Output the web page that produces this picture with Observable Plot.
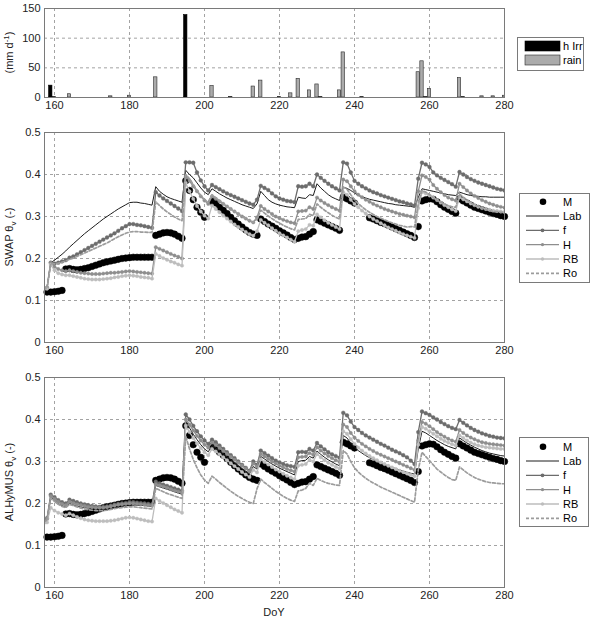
<!DOCTYPE html>
<html><head><meta charset="utf-8">
<script src="https://cdn.jsdelivr.net/npm/d3@7"></script>
<script src="https://cdn.jsdelivr.net/npm/@observablehq/plot@0.6"></script>
<style>
body{margin:0;background:#fff;}
#fig{position:relative;width:597px;height:617px;overflow:hidden;background:#fff;}
#fig svg{position:absolute;left:0;}
</style></head><body><div id="fig"></div>
<script>
// ---------- data ----------
const firstDay = 157, lastDay = 280;
const xTicks = [160, 180, 200, 220, 240, 260, 280];
const thetaTicks = [0, 0.1, 0.2, 0.3, 0.4, 0.5];
const flowTicks = [0, 50, 100, 150];

const irrDays = [159, 195];
const irrVals = [20, 139];
const rainDays = [160, 164, 175, 180, 187, 202, 207, 213, 215, 220, 223, 225, 228, 230, 231, 236, 237, 242, 257, 258, 259, 260, 268, 269, 274, 277, 280];
const rainVals = [1, 5.5, 2, 3, 34, 19.5, 1, 18.5, 28.5, 1, 7, 31.5, 12, 22, 1, 12, 76, 1, 42.6, 61, 1, 14.6, 33, 1, 2, 2, 3];

// daily values, DoY 157 .. 280 (rows of 10 days)
const measured = [
 null,0.120,0.120,0.121,0.122,0.124,0.175,0.176,0.174,0.173,
 0.174,0.176,0.178,0.181,0.184,0.187,0.190,0.192,0.194,0.196,
 0.198,0.200,0.201,0.202,0.203,0.203,0.203,0.203,0.203,0.203,
 0.255,0.258,0.261,0.262,0.261,0.258,0.253,0.248,0.385,0.362,
 0.340,0.322,0.310,0.298,null,0.336,0.332,0.322,0.315,0.307,
 0.298,0.290,0.282,0.275,0.268,0.262,0.258,0.255,0.294,0.288,
 0.282,0.277,0.272,0.266,0.261,0.256,0.250,0.245,0.248,0.251,
 0.252,0.258,0.264,0.292,0.288,0.284,0.280,0.276,0.272,0.267,
 0.346,0.342,0.337,0.332,null,null,null,0.297,0.294,0.290,
 0.286,0.283,0.279,0.275,0.271,0.267,0.263,0.259,0.255,0.250,
 0.276,0.337,0.340,0.342,0.341,0.335,0.328,0.322,0.317,0.312,
 0.308,0.342,0.337,0.332,0.327,0.322,0.319,0.316,0.313,0.310,
 0.307,0.305,0.302,0.300];

const swapLab = [
 0.130,0.130,0.190,0.196,0.203,0.210,0.218,0.227,0.235,0.243,
 0.251,0.259,0.266,0.273,0.280,0.287,0.294,0.300,0.306,0.312,
 0.318,0.323,0.328,0.333,0.334,0.334,0.332,0.331,0.329,0.327,
 0.371,0.360,0.353,0.347,0.343,0.340,0.337,0.334,0.410,0.400,
 0.392,0.380,0.368,0.358,0.352,0.366,0.360,0.354,0.349,0.344,
 0.340,0.336,0.332,0.328,0.325,0.322,0.319,0.330,0.360,0.350,
 0.340,0.334,0.330,0.327,0.325,0.323,0.322,0.321,0.346,0.344,
 0.343,0.352,0.350,0.378,0.368,0.360,0.352,0.346,0.342,0.338,
 0.370,0.367,0.362,0.356,0.350,0.347,0.344,0.341,0.339,0.337,
 0.335,0.333,0.331,0.330,0.328,0.327,0.326,0.325,0.324,0.322,
 0.345,0.366,0.364,0.362,0.360,0.358,0.356,0.354,0.352,0.351,
 0.350,0.358,0.355,0.352,0.350,0.349,0.348,0.347,0.347,0.346,
 0.346,0.346,0.346,0.346];

const swapF = [
 0.125,0.130,0.190,0.188,0.190,0.193,0.196,0.202,0.205,0.210,
 0.215,0.220,0.225,0.230,0.235,0.240,0.245,0.250,0.255,0.260,
 0.266,0.272,0.277,0.282,0.282,0.280,0.279,0.277,0.275,0.273,
 0.358,0.350,0.343,0.337,0.331,0.325,0.319,0.313,0.429,0.429,
 0.428,0.405,0.386,0.372,0.362,0.375,0.370,0.365,0.360,0.355,
 0.351,0.347,0.343,0.339,0.335,0.331,0.328,0.340,0.373,0.368,
 0.363,0.355,0.348,0.343,0.340,0.337,0.336,0.334,0.372,0.371,
 0.372,0.378,0.372,0.400,0.392,0.385,0.378,0.372,0.367,0.362,
 0.429,0.426,0.405,0.385,0.378,0.372,0.367,0.362,0.358,0.355,
 0.351,0.348,0.345,0.342,0.339,0.336,0.334,0.331,0.329,0.326,
 0.390,0.428,0.424,0.418,0.405,0.398,0.392,0.387,0.382,0.377,
 0.371,0.406,0.400,0.394,0.389,0.385,0.381,0.378,0.375,0.372,
 0.369,0.366,0.364,0.362];

const swapH = [
 0.125,0.130,0.190,0.180,0.175,0.172,0.170,0.172,0.170,0.168,
 0.166,0.165,0.164,0.163,0.163,0.163,0.164,0.165,0.166,0.166,
 0.167,0.168,0.169,0.170,0.169,0.168,0.167,0.166,0.165,0.164,
 0.227,0.223,0.219,0.215,0.211,0.207,0.204,0.200,0.395,0.385,
 0.372,0.360,0.348,0.338,0.330,0.348,0.342,0.336,0.330,0.324,
 0.318,0.312,0.306,0.300,0.295,0.290,0.286,0.298,0.325,0.318,
 0.312,0.306,0.300,0.296,0.292,0.289,0.286,0.284,0.312,0.313,
 0.314,0.322,0.318,0.345,0.338,0.332,0.327,0.322,0.318,0.314,
 0.388,0.384,0.372,0.360,0.352,0.346,0.340,0.335,0.330,0.326,
 0.322,0.318,0.315,0.312,0.309,0.306,0.304,0.302,0.300,0.298,
 0.360,0.398,0.394,0.388,0.375,0.366,0.358,0.351,0.345,0.341,
 0.338,0.378,0.370,0.362,0.355,0.349,0.344,0.339,0.335,0.331,
 0.328,0.325,0.323,0.321];

const swapRB = [
 0.125,0.128,0.185,0.172,0.165,0.162,0.160,0.160,0.158,0.156,
 0.154,0.152,0.151,0.150,0.150,0.150,0.151,0.152,0.153,0.155,
 0.156,0.158,0.159,0.160,0.159,0.158,0.156,0.155,0.154,0.152,
 0.211,0.206,0.201,0.197,0.193,0.190,0.186,0.183,0.380,0.360,
 0.342,0.325,0.312,0.302,0.295,0.326,0.318,0.310,0.302,0.295,
 0.288,0.281,0.275,0.269,0.263,0.258,0.254,0.265,0.292,0.285,
 0.279,0.272,0.266,0.260,0.255,0.250,0.245,0.240,0.265,0.268,
 0.270,0.280,0.278,0.305,0.298,0.291,0.285,0.280,0.275,0.270,
 0.358,0.352,0.340,0.330,0.322,0.314,0.307,0.300,0.294,0.289,
 0.284,0.279,0.274,0.270,0.266,0.262,0.258,0.255,0.252,0.249,
 0.320,0.358,0.355,0.350,0.345,0.339,0.333,0.327,0.322,0.317,
 0.313,0.346,0.341,0.336,0.331,0.327,0.323,0.320,0.318,0.316,
 0.314,0.313,0.312,0.311];

const swapRo = [
 0.125,0.130,0.188,0.187,0.189,0.191,0.194,0.198,0.201,0.205,
 0.209,0.213,0.217,0.221,0.225,0.229,0.233,0.237,0.242,0.247,
 0.252,0.256,0.260,0.263,0.264,0.264,0.263,0.263,0.262,0.262,
 0.335,0.326,0.318,0.311,0.305,0.299,0.294,0.290,0.400,0.390,
 0.376,0.362,0.350,0.340,0.333,0.352,0.345,0.338,0.331,0.324,
 0.318,0.312,0.306,0.300,0.295,0.290,0.286,0.294,0.315,0.308,
 0.301,0.295,0.289,0.284,0.279,0.275,0.271,0.268,0.293,0.294,
 0.295,0.305,0.302,0.330,0.322,0.315,0.309,0.303,0.298,0.294,
 0.370,0.365,0.352,0.340,0.331,0.323,0.316,0.310,0.305,0.300,
 0.296,0.292,0.288,0.285,0.282,0.279,0.277,0.275,0.276,0.275,
 0.330,0.362,0.358,0.352,0.345,0.339,0.334,0.330,0.326,0.323,
 0.322,0.354,0.346,0.339,0.333,0.328,0.324,0.320,0.317,0.314,
 0.312,0.311,0.310,0.310];

const alhLab = [
 0.155,0.160,0.215,0.208,0.200,0.195,0.192,0.200,0.197,0.194,
 0.192,0.190,0.189,0.188,0.188,0.188,0.189,0.190,0.192,0.194,
 0.195,0.196,0.197,0.198,0.198,0.197,0.196,0.195,0.194,0.193,
 0.243,0.240,0.237,0.234,0.231,0.228,0.225,0.222,0.395,0.380,
 0.365,0.352,0.340,0.330,0.323,0.338,0.332,0.325,0.318,0.311,
 0.304,0.297,0.290,0.283,0.277,0.271,0.288,0.282,0.312,0.306,
 0.300,0.294,0.289,0.284,0.280,0.276,0.272,0.268,0.300,0.302,
 0.303,0.312,0.308,0.325,0.317,0.310,0.304,0.299,0.294,0.290,
 0.362,0.356,0.344,0.334,0.326,0.320,0.314,0.309,0.305,0.301,
 0.297,0.293,0.289,0.286,0.283,0.280,0.277,0.274,0.272,0.270,
 0.330,0.372,0.368,0.362,0.356,0.350,0.345,0.340,0.336,0.333,
 0.330,0.356,0.350,0.344,0.339,0.334,0.330,0.326,0.323,0.320,
 0.318,0.316,0.314,0.313];

const alhF = [
 0.160,0.165,0.221,0.215,0.208,0.203,0.200,0.209,0.206,0.203,
 0.200,0.198,0.196,0.194,0.193,0.192,0.192,0.193,0.195,0.197,
 0.199,0.200,0.201,0.203,0.203,0.202,0.201,0.200,0.199,0.198,
 0.252,0.248,0.245,0.242,0.239,0.236,0.233,0.230,0.412,0.400,
 0.385,0.372,0.360,0.350,0.342,0.352,0.346,0.338,0.330,0.322,
 0.315,0.308,0.300,0.292,0.285,0.278,0.300,0.292,0.326,0.320,
 0.314,0.308,0.302,0.298,0.294,0.291,0.289,0.287,0.322,0.323,
 0.322,0.330,0.326,0.344,0.336,0.329,0.322,0.317,0.313,0.309,
 0.416,0.410,0.395,0.382,0.375,0.368,0.362,0.357,0.352,0.347,
 0.342,0.338,0.333,0.328,0.324,0.320,0.315,0.310,0.302,0.294,
 0.370,0.419,0.415,0.411,0.405,0.400,0.394,0.389,0.384,0.380,
 0.377,0.399,0.392,0.386,0.380,0.375,0.371,0.367,0.364,0.361,
 0.359,0.357,0.356,0.355];

const alhH = [
 0.158,0.163,0.218,0.211,0.204,0.199,0.196,0.204,0.201,0.198,
 0.196,0.194,0.192,0.191,0.190,0.190,0.190,0.191,0.193,0.195,
 0.197,0.198,0.199,0.200,0.200,0.199,0.198,0.197,0.196,0.195,
 0.246,0.243,0.240,0.237,0.234,0.231,0.228,0.226,0.400,0.388,
 0.374,0.361,0.350,0.340,0.333,0.345,0.339,0.332,0.325,0.318,
 0.311,0.304,0.297,0.290,0.283,0.276,0.295,0.288,0.318,0.312,
 0.306,0.300,0.295,0.290,0.286,0.282,0.279,0.276,0.310,0.311,
 0.312,0.320,0.316,0.334,0.326,0.319,0.313,0.308,0.303,0.299,
 0.388,0.382,0.368,0.357,0.349,0.342,0.336,0.330,0.325,0.320,
 0.316,0.312,0.308,0.304,0.300,0.296,0.292,0.288,0.284,0.280,
 0.350,0.394,0.390,0.384,0.377,0.370,0.364,0.359,0.354,0.350,
 0.347,0.375,0.368,0.362,0.357,0.353,0.349,0.346,0.344,0.342,
 0.341,0.340,0.339,0.338];

const alhRB = [
 0.150,0.155,0.190,0.183,0.178,0.175,0.172,0.176,0.172,0.168,
 0.165,0.162,0.160,0.159,0.158,0.158,0.158,0.158,0.159,0.160,
 0.162,0.164,0.166,0.167,0.166,0.164,0.162,0.160,0.158,0.157,
 0.212,0.206,0.201,0.196,0.191,0.186,0.182,0.178,0.385,0.370,
 0.356,0.343,0.332,0.322,0.315,0.330,0.324,0.317,0.310,0.303,
 0.296,0.289,0.282,0.275,0.269,0.263,0.280,0.274,0.305,0.299,
 0.293,0.287,0.281,0.276,0.271,0.266,0.262,0.258,0.290,0.292,
 0.294,0.304,0.300,0.318,0.310,0.303,0.297,0.292,0.287,0.283,
 0.372,0.366,0.353,0.342,0.333,0.326,0.319,0.313,0.308,0.303,
 0.298,0.294,0.290,0.286,0.282,0.278,0.275,0.272,0.268,0.265,
 0.340,0.382,0.378,0.372,0.366,0.360,0.354,0.349,0.345,0.341,
 0.338,0.362,0.356,0.350,0.345,0.341,0.338,0.336,0.334,0.333,
 0.332,0.331,0.330,0.330];

const alhRo = [
 0.155,0.160,0.212,0.205,0.198,0.193,0.190,0.198,0.195,0.192,
 0.189,0.187,0.185,0.184,0.183,0.183,0.183,0.184,0.186,0.188,
 0.189,0.190,0.191,0.192,0.192,0.191,0.190,0.189,0.188,0.187,
 0.236,0.232,0.228,0.224,0.221,0.218,0.215,0.212,0.360,0.330,
 0.305,0.285,0.268,0.256,0.248,0.265,0.258,0.250,0.243,0.236,
 0.229,0.223,0.217,0.212,0.207,0.203,0.200,0.235,0.258,0.250,
 0.243,0.236,0.229,0.223,0.217,0.212,0.208,0.205,0.230,0.232,
 0.236,0.248,0.243,0.260,0.255,0.251,0.248,0.246,0.244,0.243,
 0.326,0.318,0.300,0.285,0.275,0.267,0.260,0.254,0.249,0.244,
 0.239,0.235,0.231,0.227,0.223,0.219,0.215,0.211,0.207,0.203,
 0.280,0.322,0.312,0.302,0.292,0.282,0.275,0.268,0.262,0.257,
 0.255,0.287,0.280,0.273,0.267,0.262,0.258,0.255,0.252,0.250,
 0.249,0.248,0.247,0.247];

// ---------- build ----------
const days = d3.range(firstDay, lastDay + 1);
const FONT = '"Liberation Sans", Arial, Helvetica, sans-serif';
const GRID = "#8c8c8c";
const FRAME = "#7a7a7a";
const seriesStyle = {
  Lab: {stroke: "#1c1c1c", width: 1, dash: null, r: 0},
  f:   {stroke: "#6c6c6c", width: 1.3, dash: null, r: 1.9},
  H:   {stroke: "#8e8e8e", width: 1.3, dash: null, r: 1.7},
  RB:  {stroke: "#bdbdbd", width: 1.3, dash: null, r: 1.7},
  Ro:  {stroke: "#9c9c9c", width: 1.7, dash: "3,2", r: 0}
};
const order = ["Lab", "f", "H", "RB", "Ro"];
const problems = [];
function toRows(name, vals) {
  if (vals.length !== days.length) problems.push(name + ":" + vals.length);
  return vals.map((v, i) => ({day: days[i], v}));
}
const mRows = toRows("M", measured).filter(d => d.v != null);
const swap = {Lab: toRows("swapLab", swapLab), f: toRows("swapF", swapF), H: toRows("swapH", swapH), RB: toRows("swapRB", swapRB), Ro: toRows("swapRo", swapRo)};
const alh = {Lab: toRows("alhLab", alhLab), f: toRows("alhF", alhF), H: toRows("alhH", alhH), RB: toRows("alhRB", alhRB), Ro: toRows("alhRo", alhRo)};
const rainRows = rainDays.map((d, i) => ({day: d, v: rainVals[i]}));
const irrRows = irrDays.map((d, i) => ({day: d, v: irrVals[i]}));

const fig = d3.select("#fig");

function gridMarks(yt) {
  return [
    Plot.ruleX(xTicks.filter(t => t < lastDay), {stroke: GRID, strokeDasharray: "3,3", strokeWidth: 0.8}),
    Plot.ruleY(yt.slice(1, -1), {stroke: GRID, strokeDasharray: "3,3", strokeWidth: 0.8})
  ];
}
function baseOpts(height, mt, mb, yDomain, yt, fmt) {
  return {
    width: 597, height, marginLeft: 44, marginRight: 93, marginTop: mt, marginBottom: mb,
    style: {fontFamily: FONT, fontSize: "11px", color: "#222", background: "transparent", overflow: "visible"},
    x: {domain: [157.33, lastDay], ticks: xTicks, tickSize: 0, tickPadding: 4, label: null},
    y: {domain: yDomain, ticks: yt, tickSize: 0, tickPadding: 4, label: null, tickFormat: fmt}
  };
}

// Panel 1: irrigation & rain
const p1 = Plot.plot({
  ...baseOpts(117, 8, 20, [0, 150], flowTicks, d => String(d)),
  marks: [
    ...gridMarks(flowTicks),
    Plot.rect(rainRows, {x1: d => d.day - 0.45, x2: d => d.day + 0.45, y1: 0, y2: "v", fill: "#ababab", stroke: "#2a2a2a", strokeWidth: 0.6, clip: true}),
    Plot.rect(irrRows, {x1: d => d.day - 0.45, x2: d => d.day + 0.45, y1: 0, y2: "v", fill: "#000", stroke: "#000", strokeWidth: 0.6, clip: true}),
    Plot.frame({stroke: FRAME})
  ]
});

function thetaPanel(height, mt, mb, model) {
  const marks = [...gridMarks(thetaTicks)];
  marks.push(Plot.dot(mRows, {x: "day", y: "v", r: 3.3, fill: "#000", stroke: "#000", strokeWidth: 0.5}));
  for (const k of order) {
    const s = seriesStyle[k];
    marks.push(Plot.line(model[k], {x: "day", y: "v", stroke: s.stroke, strokeWidth: s.width, strokeDasharray: s.dash, clip: true}));
    if (s.r) marks.push(Plot.dot(model[k], {x: "day", y: "v", r: s.r, fill: s.stroke, stroke: s.stroke, strokeWidth: 0.4, clip: true}));
  }
  marks.push(Plot.frame({stroke: FRAME}));
  return Plot.plot({
    ...baseOpts(height, mt, mb, [0, 0.5], thetaTicks, d => d === 0 ? "0" : d.toFixed(1)),
    marks
  });
}
const p2 = thetaPanel(243, 15, 18, swap);
const p3 = thetaPanel(257, 17, 30, alh);

const panels = [[p1, 0], [p2, 117], [p3, 360]];
for (const [p, top] of panels) {
  p.style.top = top + "px";
  fig.node().appendChild(p);
}

// y-axis labels (rotated, with sub/superscripts): parts = [text, dy, small]
function yLabel(svg, cy, parts) {
  const t = d3.select(svg).append("text")
    .attr("transform", `translate(13,${cy}) rotate(-90)`)
    .attr("text-anchor", "middle")
    .attr("font-family", FONT).attr("font-size", 11).attr("fill", "#222");
  for (const [txt, dy, small] of parts) {
    t.append("tspan").text(txt).attr("dy", dy).attr("font-size", small ? 8 : 11);
  }
  return t;
}
yLabel(p1, 52.5, [["(mm d", 0, false], ["-1", -4, true], [")", 4, false]]);
yLabel(p2, 120, [["SWAP θ", 0, false], ["v", 3, true], [" (-)", -3, false]]);
yLabel(p3, 122, [["ALHyMUS θ", 0, false], ["v", 3, true], [" (-)", -3, false]]);
d3.select(p3).append("text").attr("x", 274).attr("y", 256)
  .attr("text-anchor", "middle").attr("font-family", FONT).attr("font-size", 11).attr("fill", "#222").text("DoY");

// legends overlay
const ov = fig.append("svg").attr("width", 597).attr("height", 617).style("top", "0px")
  .attr("font-family", FONT).attr("font-size", 11);

// top legend
const lg1 = ov.append("g");
lg1.append("rect").attr("x", 517.5).attr("y", 37.5).attr("width", 66).attr("height", 33).attr("fill", "#fff").attr("stroke", FRAME);
lg1.append("rect").attr("x", 525).attr("y", 41).attr("width", 35).attr("height", 10).attr("fill", "#000").attr("stroke", "#000").attr("stroke-width", 0.6);
lg1.append("rect").attr("x", 525).attr("y", 55).attr("width", 35).attr("height", 10).attr("fill", "#ababab").attr("stroke", "#2a2a2a").attr("stroke-width", 0.6);
lg1.append("text").attr("x", 563).attr("y", 50).text("h Irr");
lg1.append("text").attr("x", 563).attr("y", 64).text("rain");

function thetaLegend(x0, y0, w, h, rowY) {
  const g = ov.append("g");
  g.append("rect").attr("x", x0).attr("y", y0).attr("width", w).attr("height", h).attr("fill", "#fff").attr("stroke", FRAME);
  const names = ["M", ...order];
  names.forEach((n, i) => {
    const y = rowY[i];
    if (n === "M") {
      g.append("circle").attr("cx", 543).attr("cy", y).attr("r", 3.3).attr("fill", "#000");
    } else {
      const s = seriesStyle[n];
      g.append("line").attr("x1", 526).attr("x2", 559).attr("y1", y).attr("y2", y)
        .attr("stroke", s.stroke).attr("stroke-width", s.width).attr("stroke-dasharray", s.dash);
      if (s.r) g.append("circle").attr("cx", 542.5).attr("cy", y).attr("r", s.r).attr("fill", s.stroke);
    }
    g.append("text").attr("x", 563).attr("y", y + 4).text(n);
  });
}
thetaLegend(519.5, 193.5, 70, 89, [201.7, 216, 230.3, 244.6, 259, 273.3]);
thetaLegend(519.5, 437.5, 69, 89, [446.7, 461, 475.3, 489.6, 504, 518.3]);

if (problems.length) throw new Error("length mismatch: " + problems.join(", "));
</script></body></html>
